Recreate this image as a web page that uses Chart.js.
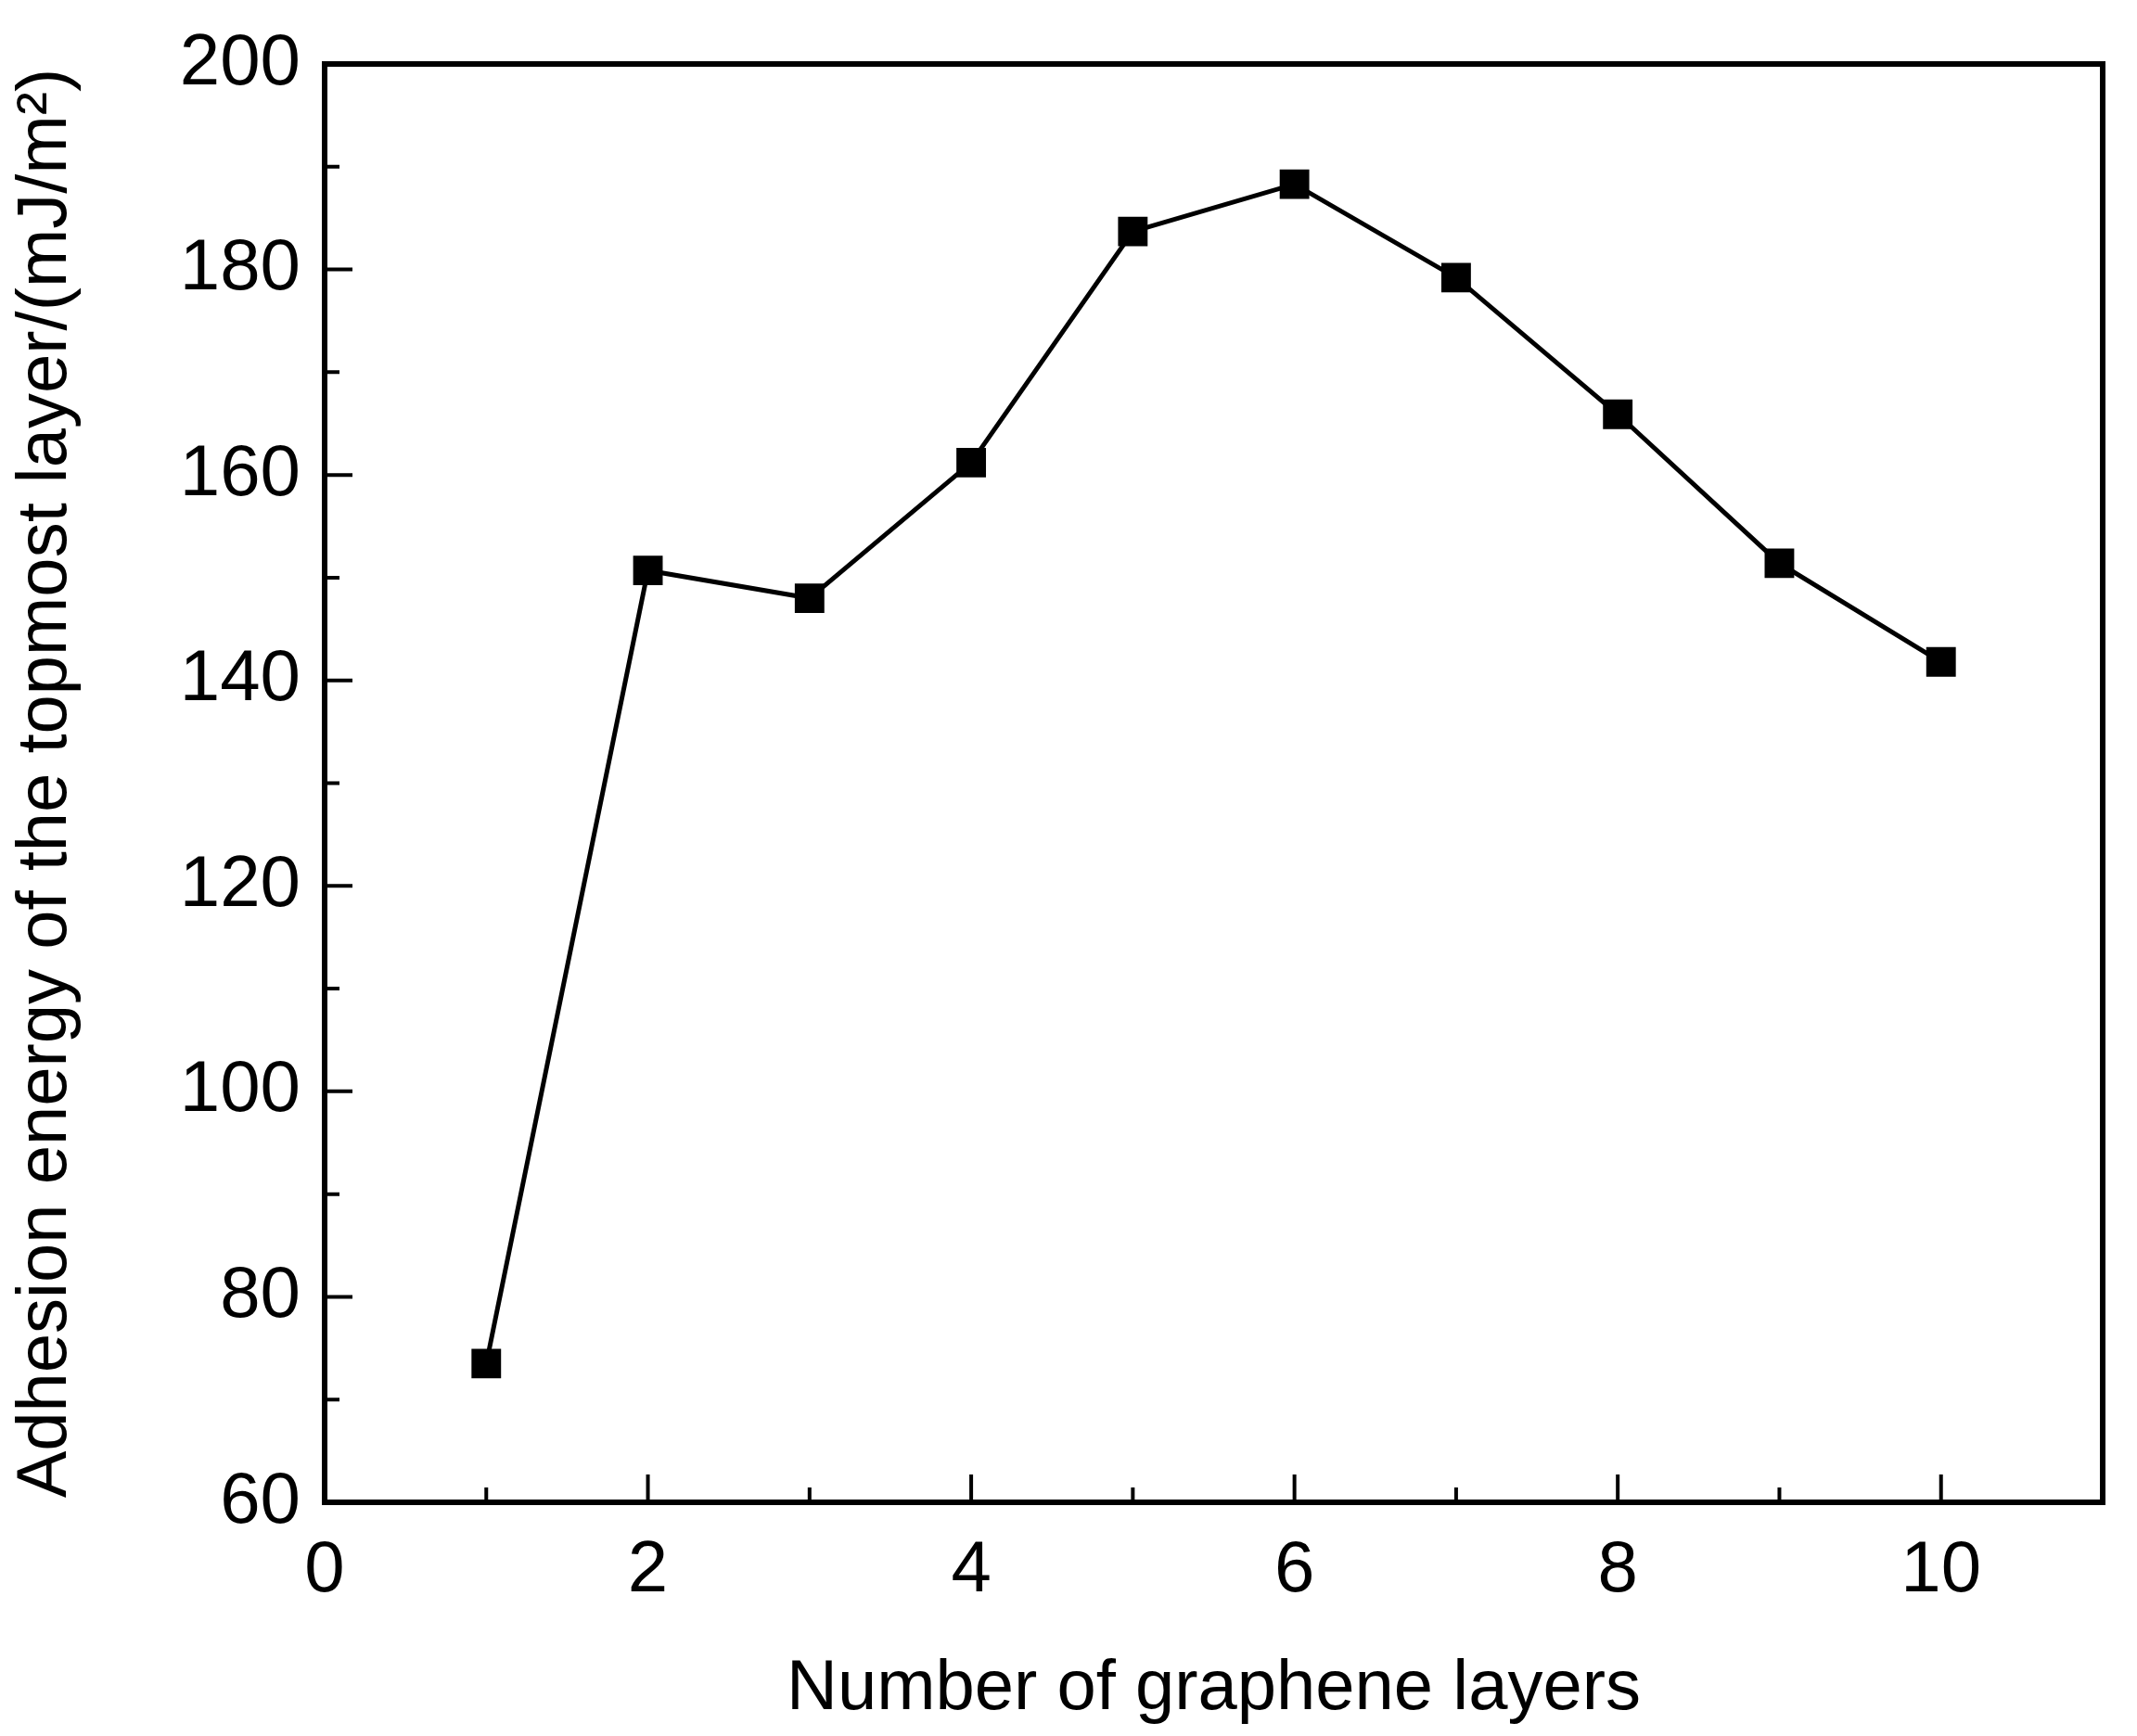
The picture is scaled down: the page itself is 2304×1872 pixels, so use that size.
<!DOCTYPE html>
<html><head><meta charset="utf-8">
<script src="https://cdn.jsdelivr.net/npm/chart.js@4"></script>
<style>html,body{margin:0;padding:0;background:#fff}#w{width:2304px;height:1872px}</style>
</head><body><div id="w"><canvas id="c"></canvas></div>
<script>
const layers=[1,2,3,4,5,6,7,8,9,10];
const adhesion=[73.5,150.7,148.0,161.2,183.7,188.3,179.2,165.9,151.4,141.8];
const xTicks=[0,2,4,6,8,10];
const yTicks=[60,80,100,120,140,160,180,200];
const F='"Liberation Sans", Arial, sans-serif';
const frame={id:'frame',afterDraw(ch){
 const c=ch.ctx,a=ch.chartArea,x=ch.scales.x,y=ch.scales.y;
 c.save();c.strokeStyle='#000';c.lineWidth=6;
 c.strokeRect(a.left,a.top,a.right-a.left,a.bottom-a.top);
 c.lineWidth=4;c.beginPath();
 for(let v=0;v<=11;v++){const p=x.getPixelForValue(v),L=v%2?16:30;c.moveTo(p,a.bottom);c.lineTo(p,a.bottom-L);}
 for(let v=60;v<=200;v+=10){const p=y.getPixelForValue(v),L=v%20?16:30;c.moveTo(a.left,p);c.lineTo(a.left+L,p);}
 c.stroke();c.restore();}};
new Chart(document.getElementById('c'),{type:'scatter',
 data:{datasets:[{data:layers.map((v,i)=>({x:v,y:adhesion[i]})),showLine:true,borderColor:'#000',borderWidth:5,
  pointStyle:'rect',pointRadius:19,pointBackgroundColor:'#000',pointBorderColor:'#000',tension:0}]},
 plugins:[frame],
 options:{responsive:true,maintainAspectRatio:false,animation:false,
  layout:{padding:{top:69,right:37,left:0,bottom:0}},
  plugins:{legend:{display:false},tooltip:{enabled:false}},
  scales:{
   x:{type:'linear',min:0,max:11,afterBuildTicks(s){s.ticks=xTicks.map(v=>({value:v}));},
    grid:{display:false},border:{display:false},
    ticks:{color:'#000',font:{family:F,size:78},padding:20,maxRotation:0},
    title:{display:true,text:'Number of graphene layers',color:'#000',font:{family:F,size:76},padding:{top:10}},
    afterFit(s){s.height=252;}},
   y:{min:60,max:200,afterBuildTicks(s){s.ticks=yTicks.map(v=>({value:v}));},
    grid:{display:false},border:{display:false},
    ticks:{color:'#000',font:{family:F,size:78},padding:18},
    title:{display:true,text:'Adhesion energy of the topmost layer/(mJ/m²)',color:'#000',font:{family:F,size:76},padding:{bottom:12}},
    afterFit(s){s.width=350;}}
  }}});
</script></body></html>
